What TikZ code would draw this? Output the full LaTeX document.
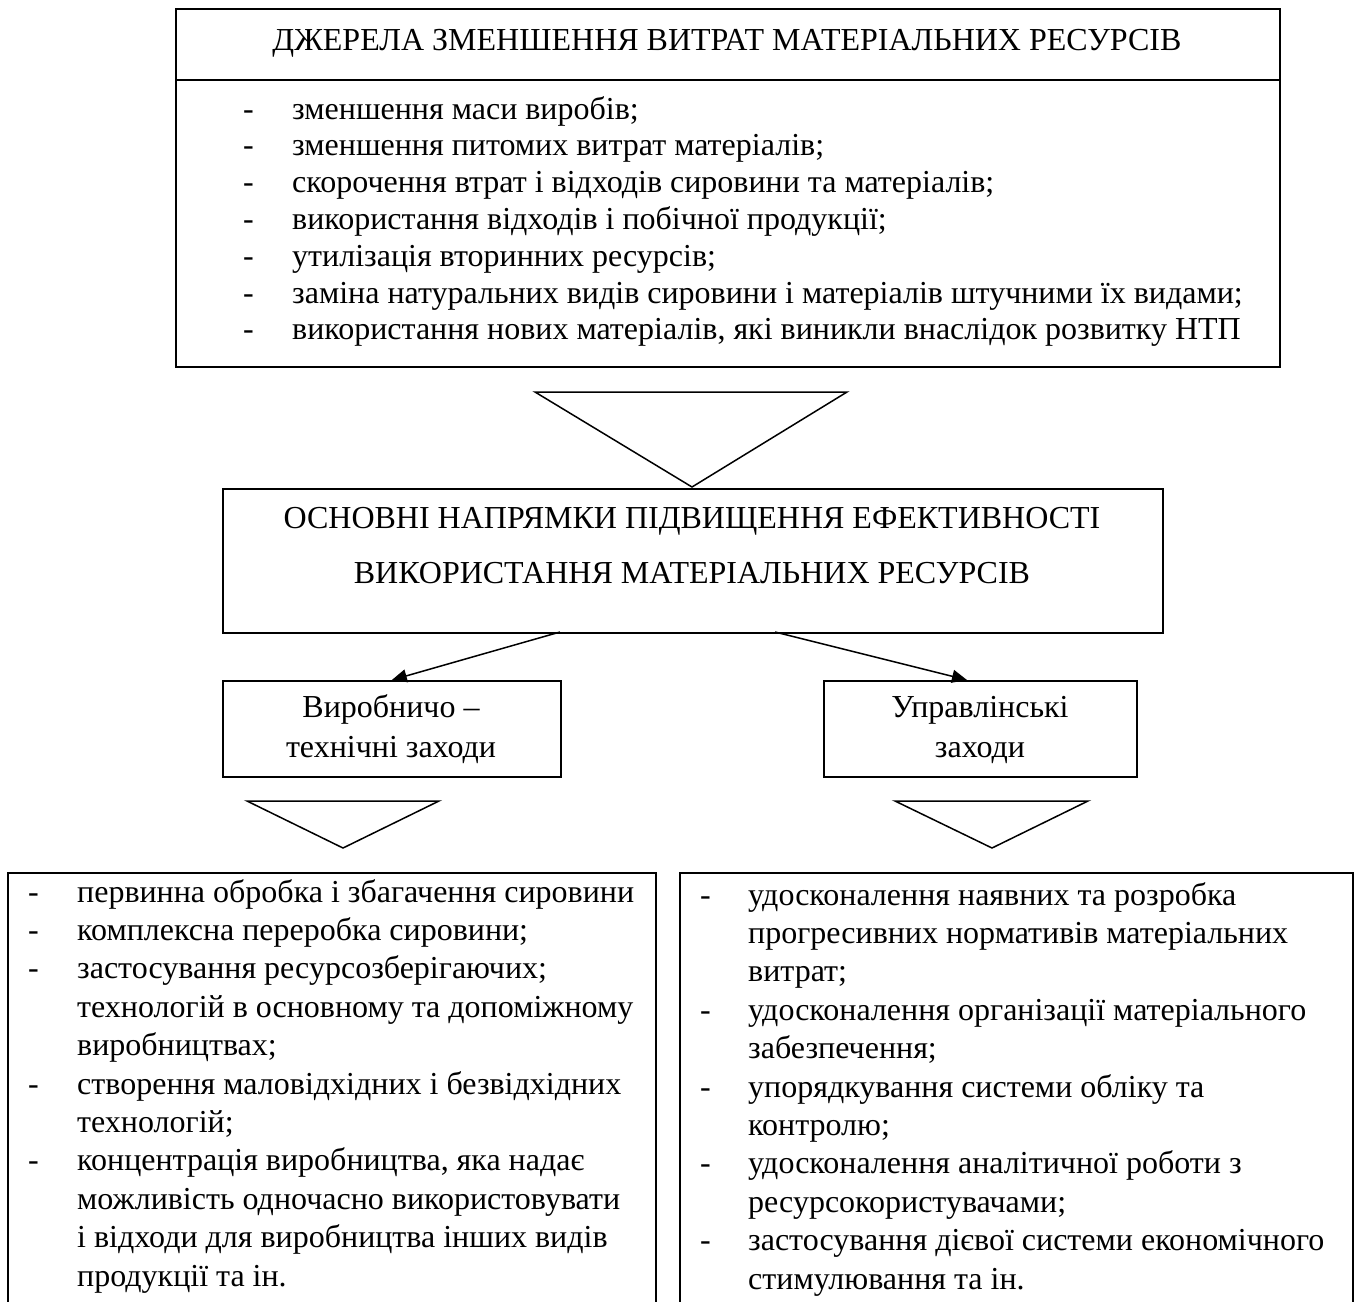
\documentclass[tikz,border=0pt]{standalone}
\usepackage{fontspec}
\setmainfont{Liberation Serif}
\usetikzlibrary{arrows.meta,calc}
\begin{document}
\begin{tikzpicture}[x=1pt,y=-1pt,
  box/.style={draw, line width=1.7pt, inner sep=0pt, anchor=north west},
  tri/.style={draw, line width=1.5pt, line join=miter},
  arr/.style={line width=1.5pt, -{Triangle[length=15pt,width=13pt]}},
  txt/.style={inner sep=0pt, font=\fontsize{32}{36.8}\selectfont},
  ltxt/.style={inner sep=0pt, font=\fontsize{32}{38.4}\selectfont},
]
\useasboundingbox (0,0) rectangle (1359,1301);
\clip (0,0) rectangle (1359,1301);

% top box
\node[box, minimum width=1104pt, minimum height=358pt] (top) at (175,8) {};
\draw[line width=1.7pt] ($(top.north west)+(0,72)$) -- ($(top.north east)+(0,72)$);
\node[txt, anchor=base] (toptitle) at (727,50) {ДЖЕРЕЛА ЗМЕНШЕННЯ ВИТРАТ МАТЕРІАЛЬНИХ РЕСУРСІВ};
\node[txt, anchor=base west] (toplist) at (243,119) {\begin{tabular}[t]{@{}p{49pt}@{}l@{}}
- & зменшення маси виробів;\\
- & зменшення питомих витрат матеріалів;\\
- & скорочення втрат і відходів сировини та матеріалів;\\
- & використання відходів і побічної продукції;\\
- & утилізація вторинних ресурсів;\\
- & заміна натуральних видів сировини і матеріалів штучними їх видами;\\
- & використання нових матеріалів, які виникли внаслідок розвитку НТП
\end{tabular}};

% triangle 1
\draw[tri] (535,392) -- (847,392) -- (692,487) -- cycle;

% middle box
\node[box, minimum width=940pt, minimum height=144pt] (mid) at (222,488) {};
\node[txt, anchor=base] (midl1) at (692,528) {ОСНОВНІ НАПРЯМКИ ПІДВИЩЕННЯ ЕФЕКТИВНОСТІ};
\node[txt, anchor=base] (midl2) at (692,583) {ВИКОРИСТАННЯ МАТЕРІАЛЬНИХ РЕСУРСІВ};

% small boxes
\node[box, minimum width=338pt, minimum height=96pt] (lbox) at (222,680) {};
\node[txt, anchor=base] (lboxt1) at (391,717) {Виробничо –};
\node[txt, anchor=base] (lboxt2) at (391,757) {технічні заходи};
\node[box, minimum width=313pt, minimum height=96pt] (rbox) at (823,680) {};
\node[txt, anchor=base] (rboxt1) at (980,717) {Управлінські};
\node[txt, anchor=base] (rboxt2) at (980,757) {заходи};

% arrows
\coordinate (a1) at (560,632);
\coordinate (a2) at (775,632);
\coordinate (rtip) at (967,680);
\draw[arr] (a1) -- (lbox.north);
\draw[arr] (a2) -- (rtip);

% small triangles
\draw[tri] (247,801) -- (439,801) -- (343,848) -- cycle;
\draw[tri] (895,801) -- (1088,801) -- (992,848) -- cycle;

% bottom boxes
\node[box, minimum width=648pt, minimum height=460pt] (lb) at (7,872) {};
\node[box, minimum width=673pt, minimum height=460pt] (rb) at (679,872) {};

\node[ltxt, anchor=base west] (lblist) at (28,902) {\begin{tabular}[t]{@{}p{49pt}@{}l@{}}
- & первинна обробка і збагачення сировини\\
- & комплексна переробка сировини;\\
- & застосування ресурсозберігаючих;\\
  & технологій в основному та допоміжному\\
  & виробництвах;\\
- & створення маловідхідних і безвідхідних\\
  & технологій;\\
- & концентрація виробництва, яка надає\\
  & можливість одночасно використовувати\\
  & і відходи для виробництва інших видів\\
  & продукції та ін.
\end{tabular}};

\node[ltxt, anchor=base west] (rblist) at (700,905) {\begin{tabular}[t]{@{}p{48pt}@{}l@{}}
- & удосконалення наявних та розробка\\
  & прогресивних нормативів матеріальних\\
  & витрат;\\
- & удосконалення організації матеріального\\
  & забезпечення;\\
- & упорядкування системи обліку та\\
  & контролю;\\
- & удосконалення аналітичної роботи з\\
  & ресурсокористувачами;\\
- & застосування дієвої системи економічного\\
  & стимулювання та ін.
\end{tabular}};
\end{tikzpicture}
\end{document}
